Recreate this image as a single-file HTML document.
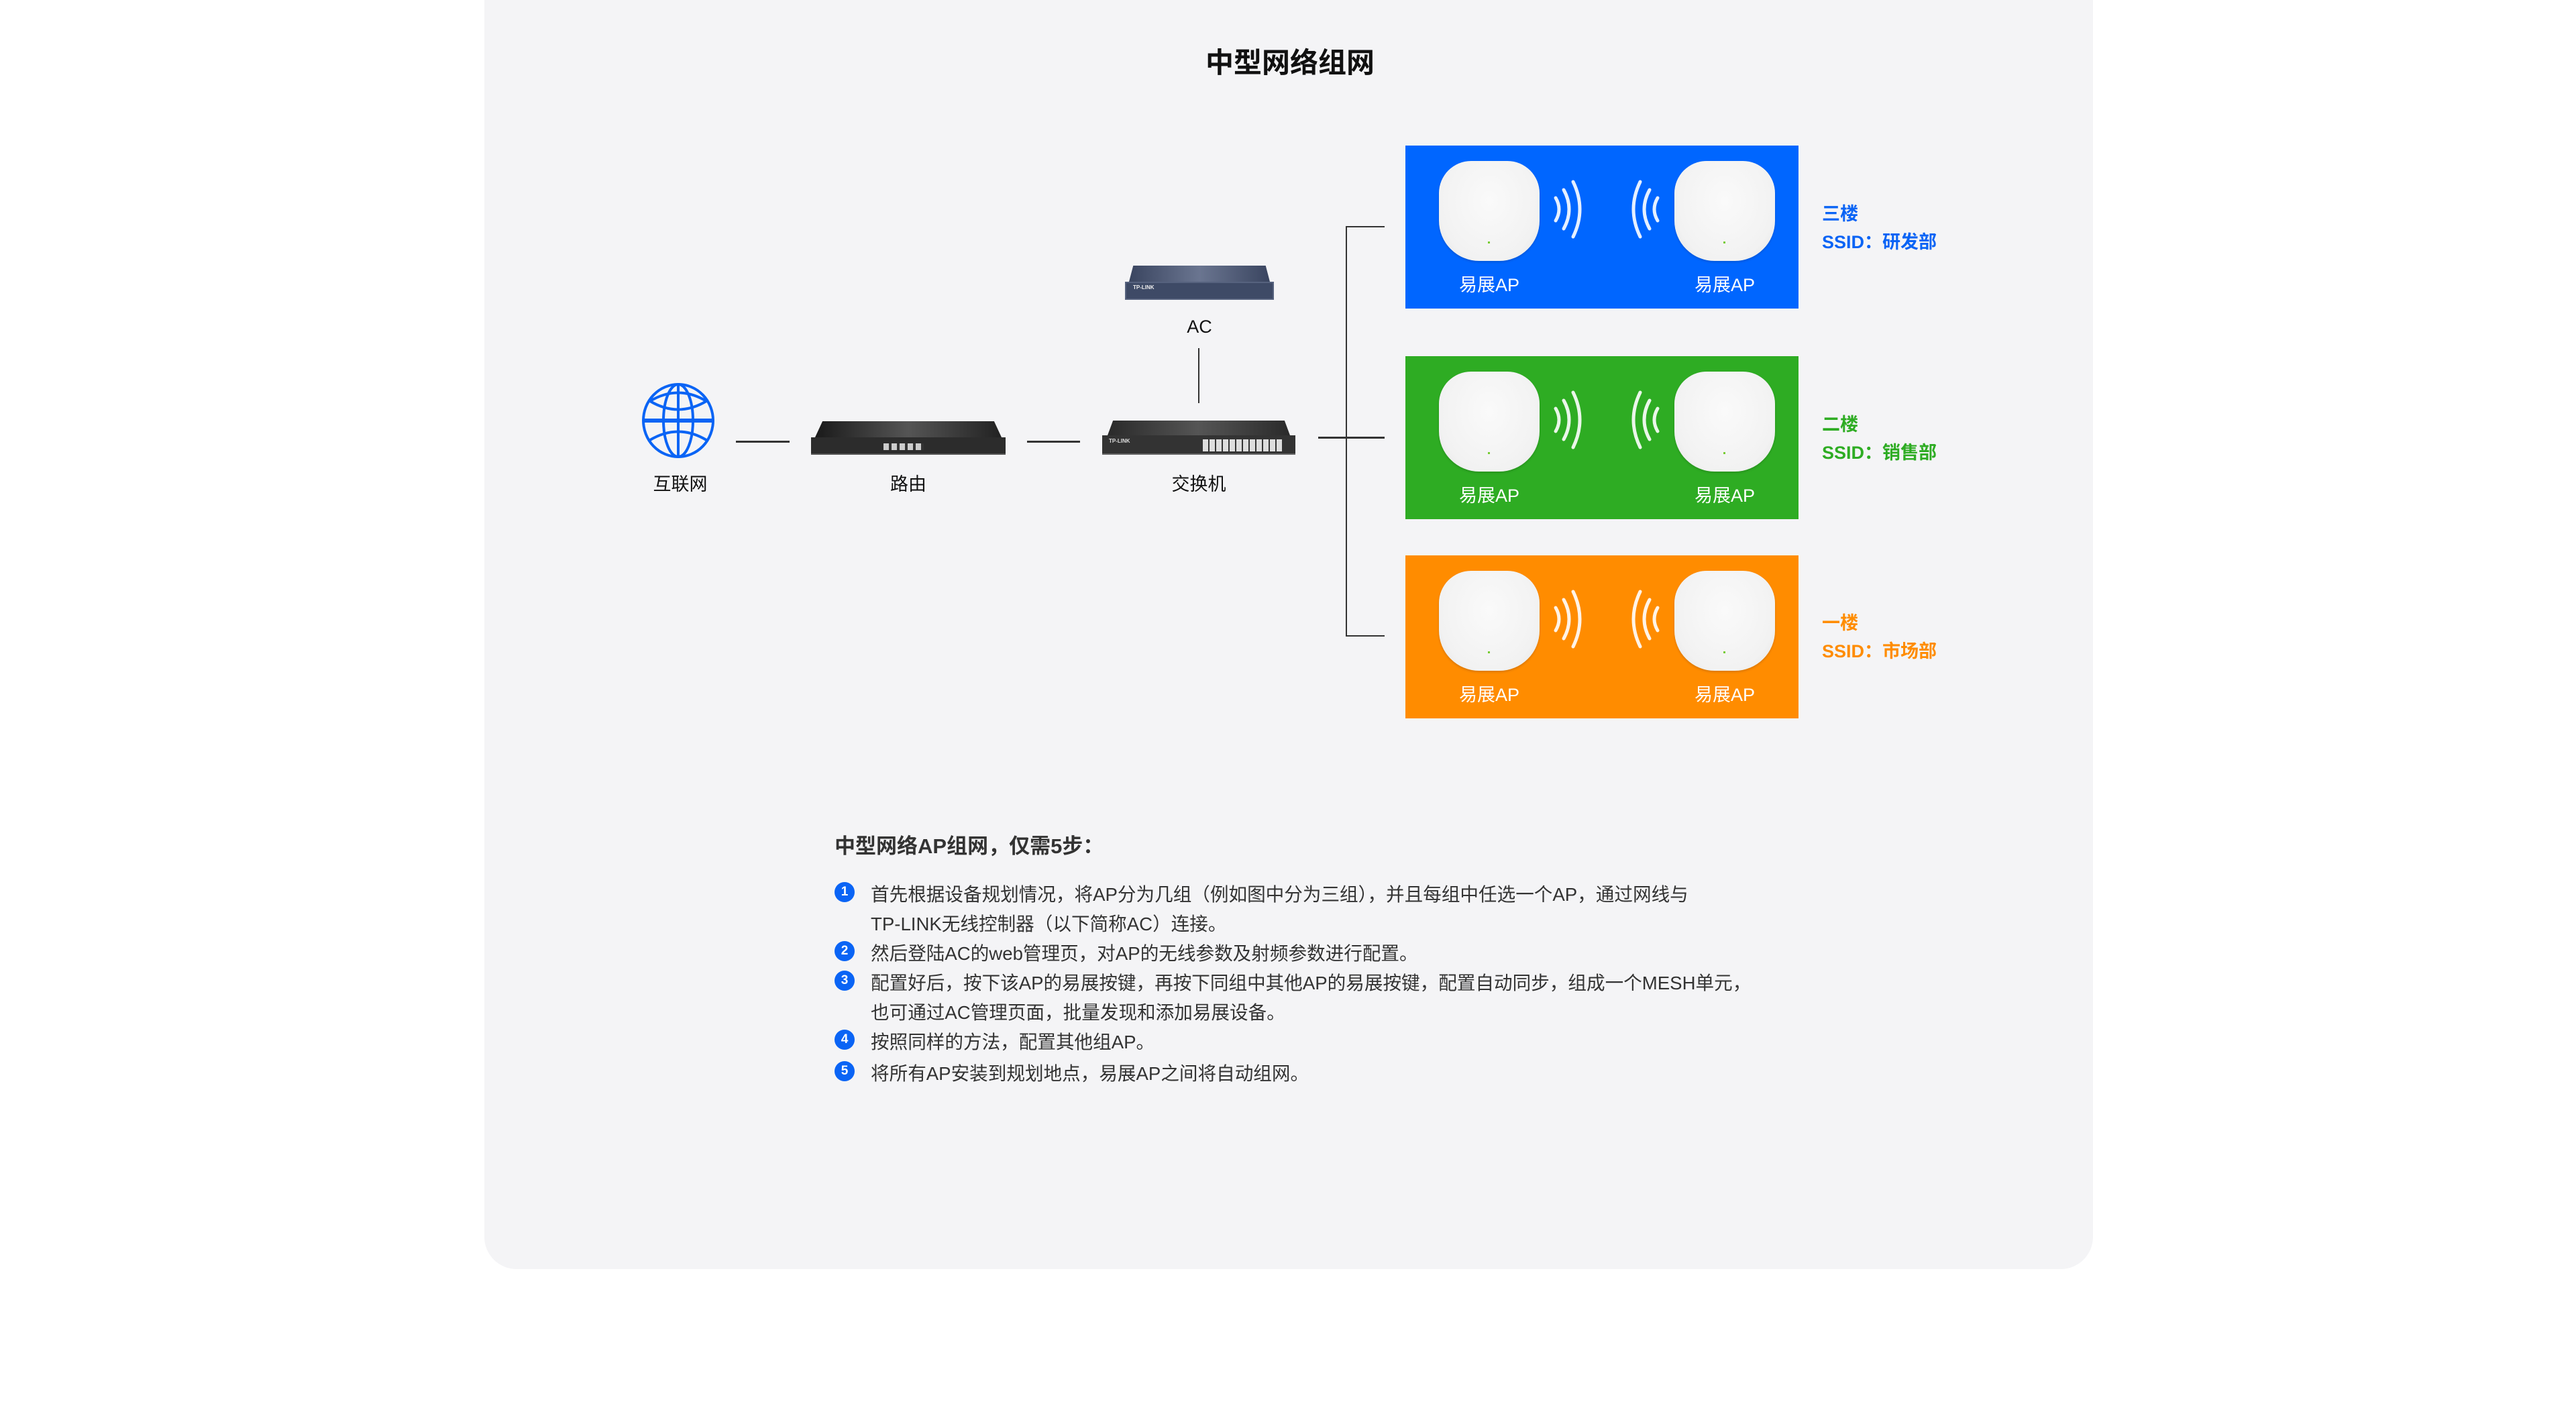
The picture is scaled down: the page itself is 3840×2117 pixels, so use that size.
<!DOCTYPE html>
<html><head><meta charset="utf-8">
<style>
*{margin:0;padding:0;box-sizing:border-box}
body{width:3840px;height:2117px;background:#fff;position:relative;overflow:hidden;font-family:"Liberation Sans","Noto Sans CJK SC",sans-serif;color:#222}
.abs{position:absolute}
.card{left:722px;top:-60px;width:2398px;height:1952px;background:#f4f4f6;border-radius:48px}
.t{position:absolute;white-space:nowrap}
.ln{position:absolute;background:#333}
.box{position:absolute;left:2095px;width:586px;height:243px}
.ap{position:absolute;top:23px;width:150px;height:149px;border-radius:48px 48px 60px 60px;background:radial-gradient(ellipse at 50% 40%,#fafafa 0%,#f2f2f2 70%,#e4e4e4 100%);box-shadow:0 2px 3px rgba(0,0,0,.15)}
.ap i{position:absolute;left:73px;top:120px;width:3px;height:3px;background:#7c3}
.apl{position:absolute;top:186px;width:150px;text-align:center;color:#fff;font-size:27px}
.side{position:absolute;left:2716px;font-weight:bold;font-size:27px;line-height:42px}
.dev{position:absolute;color:#111;font-size:27px;text-align:center}
.li{position:absolute;left:1298px;font-size:27.6px;color:#333;white-space:nowrap}
.bu{position:absolute;left:1244px;width:30px;height:30px;border-radius:50%;background:#0a64f5;color:#fff;font-size:19px;font-weight:bold;text-align:center;line-height:30px}
</style></head><body>
<div class="abs card"></div>
<div class="t" style="left:1923px;top:60px;transform:translateX(-50%);font-size:42px;font-weight:bold;color:#111">中型网络组网</div>

<svg class="abs" style="left:955px;top:568px" width="112" height="118" viewBox="0 0 112 118">
<g fill="none" stroke="#0a64f5" stroke-width="4">
<ellipse cx="56" cy="59" rx="52" ry="54"/>
<ellipse cx="56" cy="59" rx="22" ry="54"/>
<line x1="56" y1="5" x2="56" y2="113"/>
<line x1="4" y1="59" x2="108" y2="59" stroke-width="6"/>
<path d="M14 30 Q56 5 98 30"/>
<path d="M14 30 Q56 55 98 30"/>
<path d="M14 88 Q56 63 98 88"/>
</g></svg>
<div class="dev" style="left:954px;top:700px;width:120px">互联网</div>

<div class="ln" style="left:1097px;top:657px;width:80px;height:3px"></div>
<div class="abs" style="left:1209px;top:628px;width:290px;height:50px">
<div class="abs" style="left:6px;top:0;width:278px;height:24px;background:linear-gradient(90deg,#1a1a1a,#555 50%,#222);clip-path:polygon(4% 0,96% 0,100% 100%,0 100%)"></div>
<div class="abs" style="left:0;top:24px;width:290px;height:26px;background:#2c2c2c;border-bottom:2px solid #555"></div>
<div class="abs" style="left:108px;top:33px;width:60px;height:10px;background:repeating-linear-gradient(90deg,#ccc 0 8px,#333 8px 12px)"></div>
</div>
<div class="dev" style="left:1294px;top:700px;width:120px">路由</div>

<div class="ln" style="left:1531px;top:657px;width:79px;height:3px"></div>
<div class="abs" style="left:1643px;top:627px;width:288px;height:51px">
<div class="abs" style="left:8px;top:0;width:272px;height:22px;background:linear-gradient(90deg,#2a2a2a,#555 50%,#2a2a2a);clip-path:polygon(3% 0,97% 0,100% 100%,0 100%)"></div>
<div class="abs" style="left:0;top:22px;width:288px;height:29px;background:#333;border-bottom:2px solid #666"></div>
<div class="abs" style="left:150px;top:28px;width:118px;height:18px;background:repeating-linear-gradient(90deg,#ddd 0 8px,#333 8px 10px)"></div>
<div class="t" style="left:10px;top:26px;font-size:8px;color:#ddd;font-weight:bold">TP-LINK</div>
</div>
<div class="dev" style="left:1727px;top:700px;width:120px">交换机</div>

<div class="abs" style="left:1677px;top:396px;width:222px;height:51px">
<div class="abs" style="left:6px;top:0;width:210px;height:24px;background:linear-gradient(90deg,#3a4560,#6a7590 50%,#3a4560);clip-path:polygon(3% 0,97% 0,100% 100%,0 100%)"></div>
<div class="abs" style="left:0;top:24px;width:222px;height:27px;background:#3e4a66;border:2px solid #56627e"></div>
<div class="t" style="left:12px;top:28px;font-size:8px;color:#eee;font-weight:bold">TP-LINK</div>
</div>
<div class="dev" style="left:1728px;top:472px;width:120px">AC</div>
<div class="ln" style="left:1786px;top:519px;width:2px;height:82px"></div>

<div class="ln" style="left:1965px;top:651px;width:99px;height:3px"></div>
<div class="ln" style="left:2006px;top:337px;width:2px;height:612px"></div>
<div class="ln" style="left:2006px;top:337px;width:58px;height:2px"></div>
<div class="ln" style="left:2006px;top:947px;width:58px;height:2px"></div>

<div class="box" style="top:217px;background:#0066ff">
<div class="ap" style="left:50px"><i></i></div><div class="ap" style="left:401px"><i></i></div>
<svg class="abs" style="left:220px;top:50px" width="160" height="90" viewBox="0 0 160 90"><g fill="none" stroke="#fff" stroke-width="5" stroke-linecap="round" opacity=".9"><path d="M4 28 Q14 45 4 62"/><path d="M16 16 Q32 45 16 74"/><path d="M30 4 Q50 45 30 86"/><path d="M156 28 Q146 45 156 62"/><path d="M144 16 Q128 45 144 74"/><path d="M130 4 Q110 45 130 86"/></g></svg>
<div class="apl" style="left:50px">易展AP</div><div class="apl" style="left:401px">易展AP</div></div>
<div class="side" style="top:298px;color:#0a64f5">三楼<br>SSID：研发部</div>

<div class="box" style="top:531px;background:#2eac23">
<div class="ap" style="left:50px"><i></i></div><div class="ap" style="left:401px"><i></i></div>
<svg class="abs" style="left:220px;top:50px" width="160" height="90" viewBox="0 0 160 90"><g fill="none" stroke="#fff" stroke-width="5" stroke-linecap="round" opacity=".9"><path d="M4 28 Q14 45 4 62"/><path d="M16 16 Q32 45 16 74"/><path d="M30 4 Q50 45 30 86"/><path d="M156 28 Q146 45 156 62"/><path d="M144 16 Q128 45 144 74"/><path d="M130 4 Q110 45 130 86"/></g></svg>
<div class="apl" style="left:50px">易展AP</div><div class="apl" style="left:401px">易展AP</div></div>
<div class="side" style="top:612px;color:#2eac23">二楼<br>SSID：销售部</div>

<div class="box" style="top:828px;background:#ff8c00">
<div class="ap" style="left:50px"><i></i></div><div class="ap" style="left:401px"><i></i></div>
<svg class="abs" style="left:220px;top:50px" width="160" height="90" viewBox="0 0 160 90"><g fill="none" stroke="#fff" stroke-width="5" stroke-linecap="round" opacity=".9"><path d="M4 28 Q14 45 4 62"/><path d="M16 16 Q32 45 16 74"/><path d="M30 4 Q50 45 30 86"/><path d="M156 28 Q146 45 156 62"/><path d="M144 16 Q128 45 144 74"/><path d="M130 4 Q110 45 130 86"/></g></svg>
<div class="apl" style="left:50px">易展AP</div><div class="apl" style="left:401px">易展AP</div></div>
<div class="side" style="top:908px;color:#ff8c00">一楼<br>SSID：市场部</div>

<div class="t" style="left:1244px;top:1236px;font-size:31px;font-weight:bold;color:#333">中型网络AP组网，仅需5步：</div>
<div class="bu" style="top:1315px">1</div>
<div class="li" style="top:1311px">首先根据设备规划情况，将AP分为几组（例如图中分为三组），并且每组中任选一个AP，通过网线与</div>
<div class="li" style="top:1355px">TP-LINK无线控制器（以下简称AC）连接。</div>
<div class="bu" style="top:1403px">2</div>
<div class="li" style="top:1399px">然后登陆AC的web管理页，对AP的无线参数及射频参数进行配置。</div>
<div class="bu" style="top:1447px">3</div>
<div class="li" style="top:1443px">配置好后，按下该AP的易展按键，再按下同组中其他AP的易展按键，配置自动同步，组成一个MESH单元，</div>
<div class="li" style="top:1487px">也可通过AC管理页面，批量发现和添加易展设备。</div>
<div class="bu" style="top:1535px">4</div>
<div class="li" style="top:1531px">按照同样的方法，配置其他组AP。</div>
<div class="bu" style="top:1582px">5</div>
<div class="li" style="top:1578px">将所有AP安装到规划地点，易展AP之间将自动组网。</div>
</body></html>
